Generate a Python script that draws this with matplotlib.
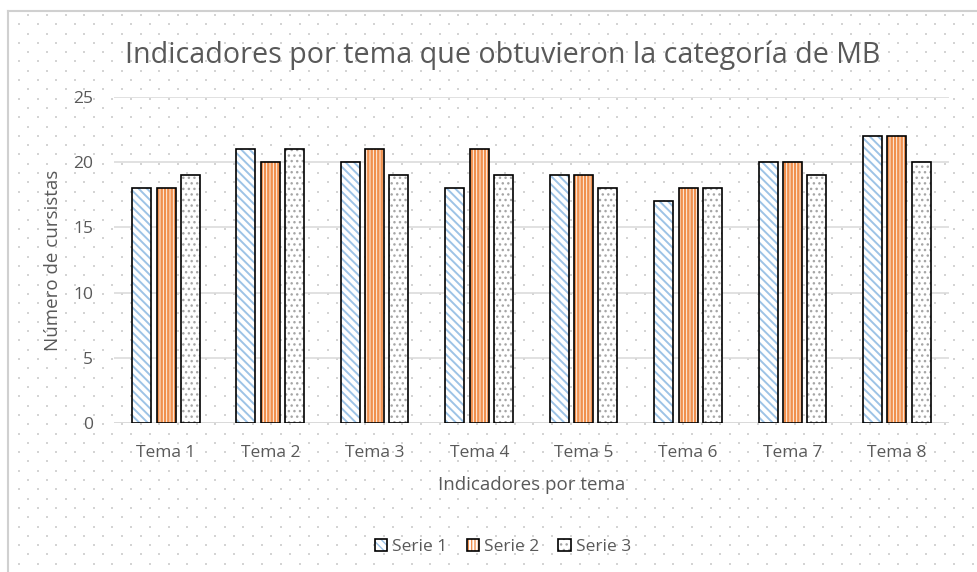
import numpy as np
import matplotlib
matplotlib.use("Agg")
import matplotlib.pyplot as plt
from matplotlib.patches import Patch
from matplotlib.legend_handler import HandlerTuple

categories = ["Tema 1", "Tema 2", "Tema 3", "Tema 4", "Tema 5", "Tema 6", "Tema 7", "Tema 8"]
serie1 = [18, 21, 20, 18, 19, 17, 20, 22]
serie2 = [18, 20, 21, 21, 19, 18, 20, 22]
serie3 = [19, 21, 19, 19, 18, 18, 19, 20]
series_names = ["Serie 1", "Serie 2", "Serie 3"]
yticks = [0, 5, 10, 15, 20, 25]

title = "Indicadores por tema que obtuvieron la categoría de MB"
xlabel = "Indicadores por tema"
ylabel = "Número de cursistas"

FONT = ["Open Sans", "DejaVu Sans"]
plt.rcParams['font.family'] = FONT
TXT = "#595959"

W, H = 977, 572
fig = plt.figure(figsize=(W / 100, H / 100), dpi=100)
fig.patch.set_facecolor("white")

# background decoration: dotted pattern and frame
bg = fig.add_axes([0, 0, 1, 1], zorder=-5)
bg.set_xlim(0, W)
bg.set_ylim(H, 0)
bg.axis("off")
dx, dy = 18.7, 9.3
rows = np.arange(470.7 - dy * 49, H + dy, dy)
pts_x, pts_y = [], []
for j, yy in enumerate(rows):
    off = 0 if (j % 2 == 1) else dx / 2
    xs = np.arange(19 - dx + off, W + dx, dx)
    xs = xs[xs > 10]
    if yy <= 13:
        continue
    pts_x.extend(xs)
    pts_y.extend([yy] * len(xs))
bg.scatter(pts_x, pts_y, s=1.6, marker="s", color="#d4d4d4", linewidths=0)
bg.plot([8, 8], [11, H], color="#d0d0d0", lw=1.5)
bg.plot([8, W], [11, 11], color="#d0d0d0", lw=1.5)

ax = fig.add_axes([113.8 / W, (H - 423) / H, 835.4 / W, 326 / H])
ax.set_facecolor("none")

x = np.arange(len(categories))
bw = 0.182
offs = [-0.235, 0.0, 0.23]
data = [serie1, serie2, serie3]
hatches = ["\\\\\\\\", "|||||", "..."]
hcolors = ["#9dc3e6", "#f0904e", "#a6a6a6"]
hlw = [1.4, 1.8, 1.0]
handles = []
for d, o, h, hc, lw in zip(data, offs, hatches, hcolors, hlw):
    with plt.rc_context({"hatch.linewidth": lw}):
        ax.bar(x + o, d, bw, color="white", edgecolor=hc, hatch=h, linewidth=0, zorder=3)
        ph = Patch(facecolor="white", edgecolor=hc, hatch=h, linewidth=0)
    ax.bar(x + o, d, bw, fill=False, edgecolor="black", linewidth=1.2, zorder=4)
    pe = Patch(fill=False, edgecolor="black", linewidth=1.2)
    handles.append((ph, pe))

ax.set_xlim(-0.5, len(categories) - 0.5)
ax.set_ylim(0, 25)
ax.set_yticks(yticks)
ax.set_xticks(x)
ax.set_xticklabels(categories)
ax.yaxis.grid(True, color="#d9d9d9", lw=1.1, zorder=0)
ax.set_axisbelow(True)
for s in ax.spines.values():
    s.set_visible(False)
ax.axhline(0, color="#d9d9d9", lw=1.1, zorder=1)
ax.tick_params(axis="both", length=0, labelsize=12.5, labelcolor=TXT)
ax.tick_params(axis="x", pad=16)
ax.tick_params(axis="y", pad=15)

ax.set_xlabel(xlabel, fontsize=13.5, color=TXT, labelpad=11)
ax.set_ylabel(ylabel, fontsize=13.5, color=TXT, labelpad=8)

fig.text(503 / W, 1 - 55 / H, title, fontsize=20.6, color=TXT, ha="center", va="center")

leg = fig.legend(handles, series_names, handler_map={tuple: HandlerTuple(ndivide=1, pad=0)},
                 loc="center", bbox_to_anchor=(503 / W, 1 - 547 / H), ncol=3, frameon=False,
                 fontsize=12.5, handlelength=0.7, handleheight=0.7, handletextpad=0.3,
                 columnspacing=1.1, labelcolor=TXT)

fig.savefig("out.png", dpi=100, facecolor="white")
